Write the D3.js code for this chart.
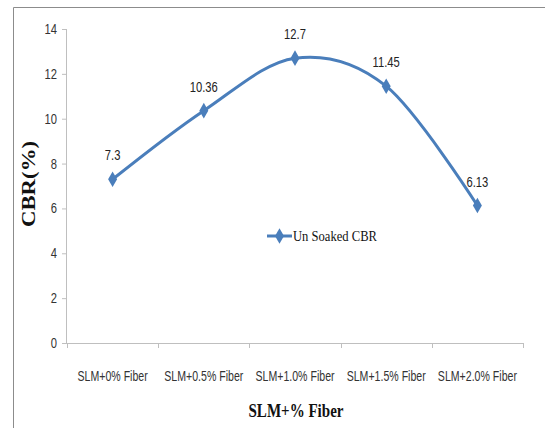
<!DOCTYPE html>
<html>
<head>
<meta charset="utf-8">
<script src="https://cdn.jsdelivr.net/npm/d3@7/dist/d3.min.js"></script>
<style>
  html, body { margin: 0; padding: 0; background: #fff; }
  svg { display: block; }
</style>
</head>
<body>
<svg id="chart" width="545" height="428"></svg>
<script>
// Un-soaked CBR for each fibre dosage
const categories = ["SLM+0% Fiber", "SLM+0.5% Fiber", "SLM+1.0% Fiber", "SLM+1.5% Fiber", "SLM+2.0% Fiber"];
const cbrValues = [7.3, 10.36, 12.7, 11.45, 6.13];
const yTicks = [0, 2, 4, 6, 8, 10, 12, 14];
const seriesName = "Un Soaked CBR";

const svg = d3.select("#chart");
const W = 545, H = 428;
const margin = { left: 67, right: 22, top: 29, bottom: 85 };
const plotW = W - margin.left - margin.right;
const plotH = H - margin.top - margin.bottom;
const lineColor = "#4a7ebb";
const axisColor = "#bfbfbf";
const sansFont = "'Liberation Sans', Arial, sans-serif";
const serifFont = "'Liberation Serif', 'Times New Roman', serif";

// squeeze a text horizontally to mimic a condensed face
function condense(sel, factor) {
  sel.each(function () {
    const w = this.getComputedTextLength();
    d3.select(this).attr("textLength", w * factor).attr("lengthAdjust", "spacingAndGlyphs");
  });
}

// chart frame
svg.append("line").attr("x1", 13.5).attr("x2", W).attr("y1", 7.5).attr("y2", 7.5)
  .attr("stroke", "#8c8c8c").attr("stroke-width", 1);
svg.append("line").attr("x1", 13.5).attr("x2", 13.5).attr("y1", 7.5).attr("y2", H)
  .attr("stroke", "#8c8c8c").attr("stroke-width", 1);

const g = svg.append("g").attr("transform", `translate(${margin.left},${margin.top})`);

const x = d3.scaleBand().domain(categories).range([0, plotW]).padding(0);
const y = d3.scaleLinear().domain([0, 14]).range([plotH, 0]);

// y axis
const yAxis = g.append("g").call(d3.axisLeft(y).tickValues(yTicks).tickSize(5).tickPadding(5).tickFormat(d3.format("d")));
yAxis.select(".domain").attr("stroke", axisColor).attr("d", `M-0.5,${plotH}V0`);
yAxis.selectAll(".tick line").attr("stroke", axisColor);
yAxis.selectAll("text").attr("font-family", sansFont).attr("font-size", 14).attr("fill", "#333")
  .call(condense, 0.8);

// x axis with tick marks at band boundaries
const xg = g.append("g").attr("transform", `translate(0,${plotH})`);
xg.append("line").attr("x1", 0).attr("x2", plotW).attr("y1", 0.5).attr("y2", 0.5).attr("stroke", axisColor);
const boundaries = categories.map(c => x(c)).concat([plotW]);
xg.selectAll("line.tk").data(boundaries).enter().append("line")
  .attr("class", "tk")
  .attr("x1", d => Math.round(d) + 0.5).attr("x2", d => Math.round(d) + 0.5)
  .attr("y1", 0).attr("y2", 5).attr("stroke", axisColor);
// category labels, horizontally compressed with a scale transform
xg.selectAll("text").data(categories).enter().append("text")
  .attr("transform", d => `translate(${x(d) + x.bandwidth() / 2},37.5) scale(0.73,1)`)
  .attr("text-anchor", "middle")
  .attr("font-family", sansFont).attr("font-size", 14.5).attr("fill", "#333")
  .text(d => d);

// axis titles
svg.append("text")
  .attr("x", 296).attr("y", 417)
  .attr("text-anchor", "middle")
  .attr("font-family", serifFont).attr("font-weight", "bold").attr("font-size", 18).attr("fill", "#111")
  .attr("textLength", 95).attr("lengthAdjust", "spacingAndGlyphs")
  .text("SLM+% Fiber");
svg.append("text")
  .attr("transform", `translate(35,184) rotate(-90)`)
  .attr("text-anchor", "middle")
  .attr("font-family", serifFont).attr("font-weight", "bold").attr("font-size", 18).attr("fill", "#111")
  .attr("textLength", 86).attr("lengthAdjust", "spacingAndGlyphs")
  .text("CBR(%)");

// smoothed series line
const pts = categories.map((c, i) => [x(c) + x.bandwidth() / 2, y(cbrValues[i])]);
const line = d3.line().curve(d3.curveCatmullRom.alpha(0));
g.append("path").attr("d", line(pts))
  .attr("fill", "none").attr("stroke", lineColor).attr("stroke-width", 3).attr("stroke-linejoin", "round");

// diamond markers
const diamond = d3.symbol().type(d3.symbolDiamond).size(70);
g.selectAll("path.mk").data(pts).enter().append("path")
  .attr("class", "mk")
  .attr("d", diamond)
  .attr("transform", d => `translate(${d[0]},${d[1]})`)
  .attr("fill", lineColor);

// value labels
g.selectAll("text.lbl").data(cbrValues).enter().append("text")
  .attr("class", "lbl")
  .attr("x", (d, i) => pts[i][0])
  .attr("y", (d, i) => pts[i][1] - 19)
  .attr("text-anchor", "middle")
  .attr("font-family", sansFont).attr("font-size", 14).attr("fill", "#222")
  .text(d => d)
  .call(condense, 0.8);

// legend
const lg = svg.append("g").attr("transform", "translate(267,236)");
lg.append("line").attr("x1", 0).attr("x2", 25).attr("y1", 0).attr("y2", 0)
  .attr("stroke", lineColor).attr("stroke-width", 3);
lg.append("path").attr("d", diamond).attr("transform", "translate(12.5,0)").attr("fill", lineColor);
lg.append("text").attr("x", 26).attr("y", 5)
  .attr("font-family", serifFont).attr("font-size", 14).attr("fill", "#111")
  .attr("textLength", 84).attr("lengthAdjust", "spacingAndGlyphs")
  .text(seriesName);
</script>
</body>
</html>
